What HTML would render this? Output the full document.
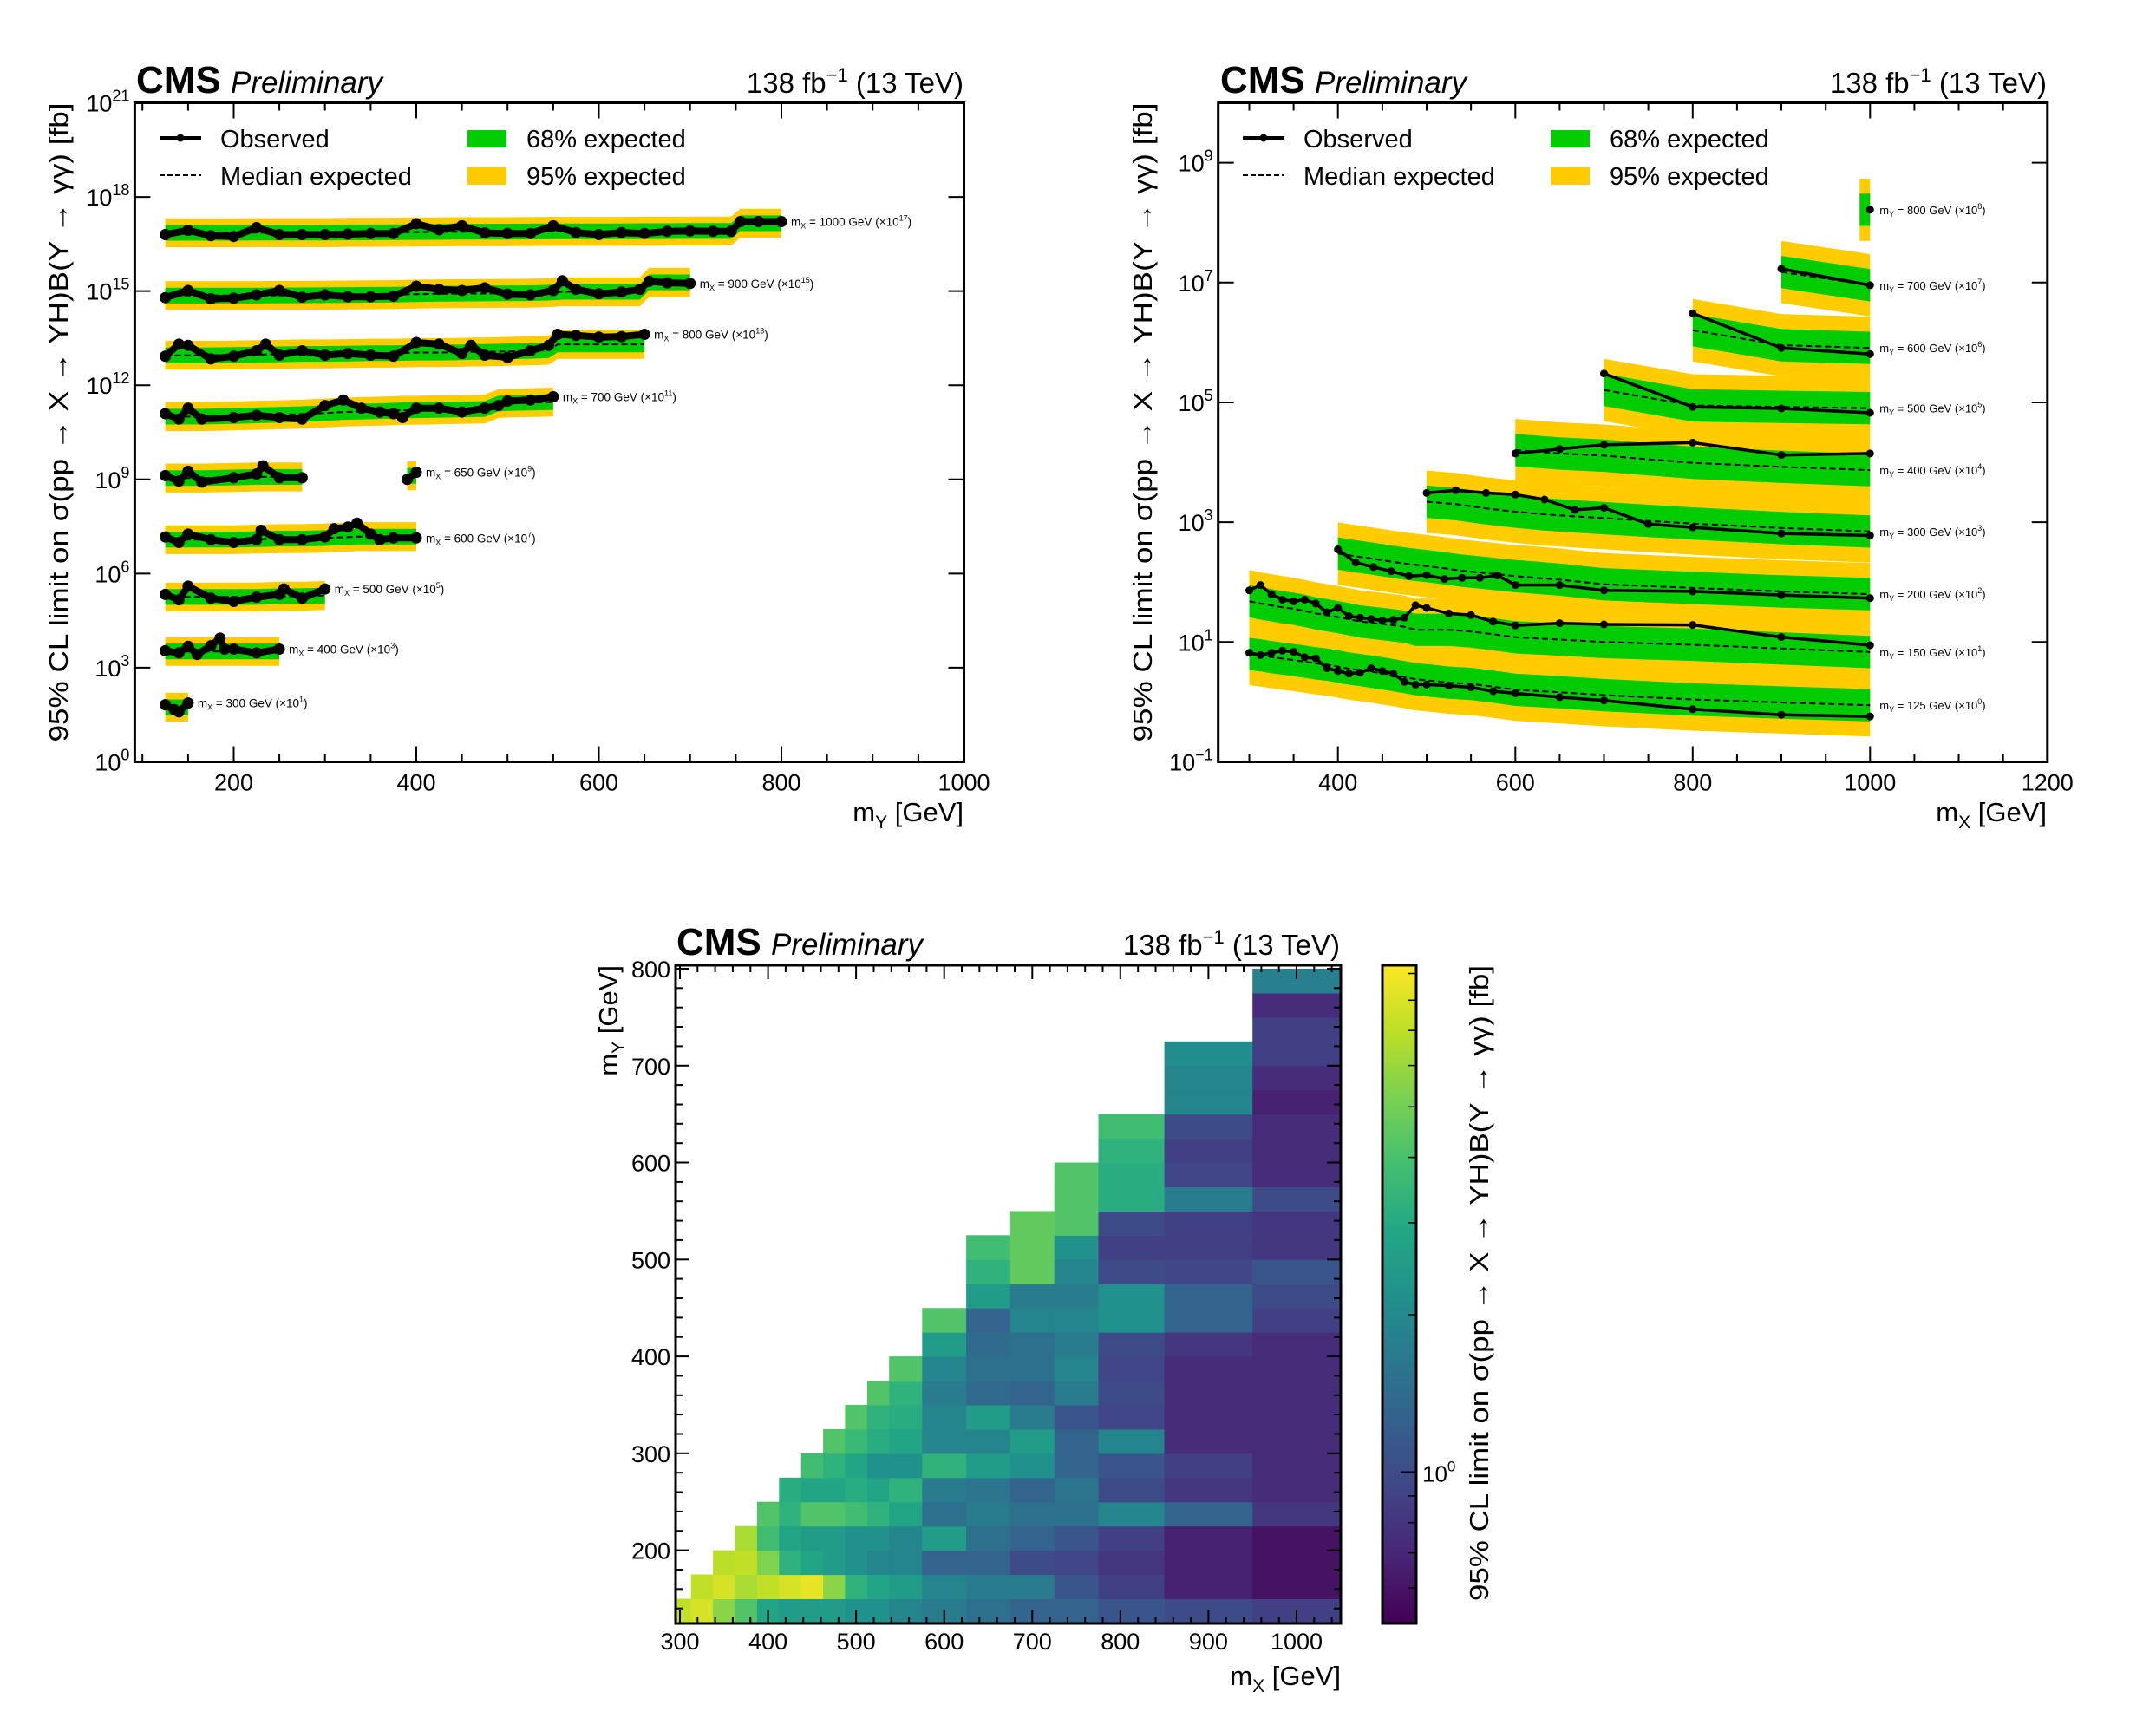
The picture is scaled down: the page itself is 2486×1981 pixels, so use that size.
<!DOCTYPE html>
<html><head><meta charset="utf-8"><title>CMS X to YH limits</title>
<style>html,body{margin:0;padding:0;background:#fff;overflow:hidden}svg{display:block}</style>
</head><body>
<svg id="fig" xmlns="http://www.w3.org/2000/svg" width="2486" height="1981" viewBox="0 0 2486 1981" font-family="'Liberation Sans', 'DejaVu Sans', sans-serif">
<rect x="0" y="0" width="2486" height="1981" fill="#fff"/>
<defs>
<clipPath id="clip3"><rect x="779" y="1113" width="767" height="759"/></clipPath>
<linearGradient id="viridisGrad" x1="0" y1="1" x2="0" y2="0">
<stop offset="0" stop-color="#440154"/><stop offset="0.1" stop-color="#482475"/><stop offset="0.2" stop-color="#414487"/><stop offset="0.3" stop-color="#355f8d"/><stop offset="0.4" stop-color="#2a788e"/><stop offset="0.5" stop-color="#21918c"/><stop offset="0.6" stop-color="#22a884"/><stop offset="0.7" stop-color="#44bf70"/><stop offset="0.8" stop-color="#7ad151"/><stop offset="0.9" stop-color="#bddf26"/><stop offset="1" stop-color="#fde725"/>
</linearGradient>
</defs>

<g>
<text x="157" y="107" font-size="44" font-weight="bold">CMS</text>
<text x="266" y="107" font-size="35" font-style="italic">Preliminary</text>
<text x="1111" y="107" font-size="33" text-anchor="end">138 fb<tspan dy="-13" font-size="22">−1</tspan><tspan dy="13"> (13 TeV)</tspan></text>
</g>
<text transform="translate(78,118.5) rotate(-90)" font-size="31" text-anchor="end" textLength="737" lengthAdjust="spacingAndGlyphs">95% CL limit on σ(pp → X → YH)B(Y → γγ) [fb]</text>
<text x="1111" y="947" font-size="31" text-anchor="end">m<tspan dy="8" font-size="21">Y</tspan><tspan dy="-8"> [GeV]</tspan></text>

<g>
<text x="1407" y="107" font-size="44" font-weight="bold">CMS</text>
<text x="1516" y="107" font-size="35" font-style="italic">Preliminary</text>
<text x="2360" y="107" font-size="33" text-anchor="end">138 fb<tspan dy="-13" font-size="22">−1</tspan><tspan dy="13"> (13 TeV)</tspan></text>
</g>
<text transform="translate(1328,118.5) rotate(-90)" font-size="31" text-anchor="end" textLength="737" lengthAdjust="spacingAndGlyphs">95% CL limit on σ(pp → X → YH)B(Y → γγ) [fb]</text>
<text x="2360" y="947" font-size="31" text-anchor="end">m<tspan dy="8" font-size="21">X</tspan><tspan dy="-8"> [GeV]</tspan></text>

<g>
<text x="780" y="1101" font-size="44" font-weight="bold">CMS</text>
<text x="889" y="1101" font-size="35" font-style="italic">Preliminary</text>
<text x="1545" y="1101" font-size="33" text-anchor="end">138 fb<tspan dy="-13" font-size="22">−1</tspan><tspan dy="13"> (13 TeV)</tspan></text>
</g>
<text transform="translate(712,1113) rotate(-90)" font-size="31" text-anchor="end">m<tspan dy="8" font-size="21">Y</tspan><tspan dy="-8"> [GeV]</tspan></text>
<text x="1546" y="1943" font-size="31" text-anchor="end">m<tspan dy="8" font-size="21">X</tspan><tspan dy="-8"> [GeV]</tspan></text>
<text transform="translate(1716,1113) rotate(-90)" font-size="31" text-anchor="end" textLength="733" lengthAdjust="spacingAndGlyphs">95% CL limit on σ(pp → X → YH)B(Y → γγ) [fb]</text>

<g id="layer"></g>
</svg>

<script>
// ================= DATA: Panel 1 (limits vs mY, per mX) =================
const p1MX = [1000, 900, 800, 700, 650, 650, 600, 500, 400, 300];
const p1ScaleExp = [17, 15, 13, 11, 9, 9, 7, 5, 3, 1];
const p1ShowLabel = [true, true, true, true, false, true, true, true, true, true];
const p1MY = [
  [125,150,175,200,225,250,275,300,325,350,375,400,425,450,475,500,525,550,575,600,625,650,675,700,725,745,755,775,800],
  [125,150,175,200,225,250,275,300,325,350,375,400,425,450,475,500,525,550,560,575,600,625,645,655,675,700],
  [125,140,150,175,200,225,235,250,275,300,325,350,375,400,425,450,460,475,500,525,545,555,575,600,625,650],
  [125,140,150,165,200,225,250,275,300,320,340,360,375,385,400,425,450,475,490,500,525,550],
  [125,140,150,165,200,225,232,250,275],
  [390,400],
  [125,140,150,175,200,225,230,250,275,300,310,325,335,350,360,375,400],
  [125,140,150,175,200,225,250,255,275,300],
  [125,140,150,160,175,185,190,200,225,250],
  [125,135,140,150]
];
const p1Obs = [
  [0.63,0.86,0.58,0.55,1.05,0.63,0.63,0.63,0.65,0.68,0.68,1.4,0.9,1.2,0.71,0.68,0.68,1.2,0.73,0.63,0.73,0.68,0.80,0.82,0.80,0.80,1.64,1.64,1.64],
  [0.62,1.04,0.57,0.59,0.76,1.04,0.64,0.76,0.66,0.66,0.69,1.43,1.13,1.04,1.27,0.80,0.76,1.04,2.14,1.13,0.82,0.93,1.13,2.05,1.83,1.76],
  [0.84,2.03,1.87,0.69,0.84,1.25,2.03,0.91,1.25,0.91,1.03,0.91,0.84,2.29,2.03,1.03,1.87,0.91,0.77,1.25,1.87,4.19,3.87,3.42,3.56,4.19],
  [1.24,0.83,1.85,0.83,0.93,1.10,0.93,0.83,2.26,3.38,1.85,1.40,1.24,0.93,1.85,1.85,1.40,1.85,2.26,3.12,3.38,4.3],
  [1.32,0.88,1.82,0.82,1.13,1.49,2.72,1.13,1.13],
  [1.0,1.68],
  [1.47,0.98,1.80,1.20,0.98,1.20,2.38,1.20,1.20,1.47,2.69,3.03,4.02,1.80,1.20,1.36,1.36],
  [2.17,1.45,3.96,1.64,1.29,1.77,2.17,3.24,1.64,3.24],
  [3.47,2.95,4.78,2.63,5.0,8.7,3.9,3.9,2.95,3.9],
  [6.6,4.6,3.9,7.5]
];
const p1Exp = [
  [0.72,0.72,0.72,0.72,0.73,0.73,0.73,0.73,0.74,0.74,0.75,0.76,0.77,0.78,0.78,0.78,0.79,0.80,0.80,0.80,0.80,0.81,0.81,0.82,0.82,0.82,1.45,1.45,1.45],
  [0.72,0.72,0.72,0.72,0.72,0.73,0.73,0.74,0.75,0.76,0.77,0.8,0.82,0.83,0.84,0.85,0.86,0.9,0.95,0.95,0.95,0.95,0.95,1.9,1.9,1.9],
  [0.9,0.9,0.9,0.9,0.92,0.95,0.95,0.97,1.0,1.0,1.02,1.05,1.05,1.1,1.1,1.12,1.15,1.15,1.2,1.25,1.3,2.0,2.0,2.0,2.0,2.0],
  [1.0,1.0,1.0,1.0,1.05,1.1,1.15,1.2,1.3,1.4,1.45,1.5,1.55,1.6,1.6,1.65,1.7,1.75,2.6,2.7,2.8,2.9],
  [1.1,1.1,1.1,1.1,1.15,1.2,1.2,1.2,1.2],
  [1.3,1.3],
  [1.2,1.2,1.2,1.2,1.2,1.25,1.25,1.3,1.3,1.35,1.4,1.45,1.5,1.5,1.5,1.5,1.5],
  [1.8,1.8,1.8,1.8,1.8,1.8,1.9,1.9,1.9,2.0],
  [3.3,3.3,3.3,3.3,3.3,3.3,3.3,3.3,3.3,3.3],
  [5.5,5.5,5.5,5.5]
];
const p1XTicks = [200, 400, 600, 800, 1000];
const p1YTickExp = [0, 3, 6, 9, 12, 15, 18, 21];

// ================= DATA: Panel 2 (limits vs mX, per mY) =================
const p2MY = [125, 150, 200, 300, 400, 500, 600, 700, 800];
const p2ScaleExp = [0, 1, 2, 3, 4, 5, 6, 7, 8];
const p2MX = [
  [300,312.5,325,337.5,350,362.5,375,387.5,400,412.5,425,437.5,450,462.5,475,487.5,500,525,550,575,600,650,700,800,900,1000],
  [300,312.5,325,337.5,350,362.5,375,387.5,400,412.5,425,437.5,450,462.5,475,487.5,500,525,550,575,600,650,700,800,900,1000],
  [400,420,440,460,480,500,520,540,560,580,600,650,700,800,900,1000],
  [500,533,567,600,633,667,700,750,800,900,1000],
  [600,650,700,800,900,1000],
  [700,800,900,1000],
  [800,900,1000],
  [900,1000],
  [1000]
];
const p2Obs = [
  [6.59,6.05,6.59,7.18,6.87,5.57,5.34,3.66,3.29,2.96,3.09,3.66,3.29,2.96,2.16,1.95,1.95,1.87,1.75,1.51,1.39,1.20,1.06,0.755,0.61,0.574],
  [7.26,8.95,6.27,5.08,4.77,5.08,4.39,3.13,3.71,2.70,2.54,2.43,2.28,2.33,2.54,4.11,3.71,3.0,2.82,2.19,1.89,2.06,1.97,1.93,1.21,0.885],
  [3.52,2.12,1.79,1.52,1.26,1.31,1.13,1.18,1.18,1.29,0.895,0.895,0.726,0.70,0.61,0.54],
  [3.08,3.42,3.08,2.89,2.39,1.60,1.74,0.93,0.82,0.65,0.60],
  [1.40,1.66,1.96,2.13,1.32,1.40],
  [3.03,0.84,0.79,0.67],
  [3.06,0.81,0.64],
  [1.69,0.9],
  [1.64]
];
const p2Exp = [
  [6.3,6.0,5.6,5.3,5.0,4.7,4.4,4.2,3.9,3.6,3.4,3.2,3.0,2.8,2.6,2.4,2.3,2.1,2.0,1.8,1.6,1.45,1.3,1.1,0.98,0.88],
  [4.8,4.4,4.1,3.8,3.6,3.3,3.0,2.8,2.6,2.4,2.2,2.1,2.0,1.9,1.8,1.6,1.6,1.6,1.5,1.35,1.2,1.1,1.0,0.9,0.78,0.68],
  [3.0,2.7,2.45,2.2,2.0,1.85,1.7,1.55,1.45,1.35,1.26,1.1,0.92,0.8,0.7,0.63],
  [2.2,2.0,1.7,1.5,1.35,1.25,1.17,1.05,0.95,0.8,0.7],
  [1.6,1.4,1.29,0.98,0.84,0.74],
  [1.61,0.89,0.84,0.80],
  [1.6,0.9,0.81],
  [1.5,0.9],
  [1.64]
];
const p2XTicks = [400, 600, 800, 1000, 1200];
const p2YTickExp = [-1, 1, 3, 5, 7, 9];

// ================= DATA: Panel 3 (heatmap) =================
const p3XEdges = [295,312.5,337.5,362.5,387.5,412.5,437.5,462.5,487.5,512.5,537.5,575,625,675,725,775,850,950,1050];
const p3YStart = 125;
const p3YStep = 25;
const p3Values = [
  [7.1],
  [7.8,7.1],
  [5.6,7.8,6.9],
  [4.2,6.4,7.1,6.4],
  [2.8,7.1,5.3,3.8,4.2],
  [2.5,7.8,3.3,2.8,3.3,3.1],
  [2.5,8.4,2.8,2.5,4.2,2.8,3.8],
  [2.5,5.6,2.5,2.5,4.2,2.8,3.3,4.2],
  [2.2,3.3,2.2,2.2,3.8,3.1,2.8,3.6,4.2],
  [2.2,2.8,1.9,2.2,3.3,2.8,2.2,3.1,3.3,4.2],
  [1.9,2.5,1.9,1.9,2.8,3.3,2.2,2.8,3.1,3.3,4.2],
  [1.7,1.9,1.3,2.5,1.5,1.7,3.3,1.9,1.9,1.7,1.9,2.5,4.2],
  [1.5,1.7,1.3,1.5,1.7,1.6,2.5,1.9,2.5,1.4,1.5,1.4,1.3,2.5,3.3,3.8],
  [1.3,1.7,1.0,1.3,1.5,1.3,2.2,2.5,1.7,1.3,1.5,1.5,1.9,1.7,4.6,4.6,4.6],
  [1.3,1.1,0.94,1.1,1.5,1.6,1.3,1.3,1.1,1.7,1.9,1.7,1.9,1.7,1.9,2.2,4.2,4.2,4.2],
  [1.1,0.88,0.81,0.88,1.9,1.0,1.1,1.9,0.94,1.0,0.94,1.0,2.2,2.2,1.0,0.88,1.0,3.1,3.1,3.3,3.8],
  [1.0,0.67,0.67,0.67,1.3,0.81,0.88,0.74,0.74,0.74,0.74,0.81,1.3,1.3,0.94,0.88,0.88,1.7,0.94,0.88,1.0,1.9,1.9,2.1],
  [0.88,0.59,0.59,0.59,0.81,0.74,0.74,0.74,0.74,0.74,0.74,0.74,0.88,1.0,1.1,0.81,0.81,1.0,0.74,0.74,0.74,0.67,0.74,0.88,0.88,0.74,1.8]
];
const p3XTicks = [300,400,500,600,700,800,900,1000];
const p3YTicks = [200,300,400,500,600,700,800];
const cbMinorTicks = [0.6,0.7,0.8,0.9,2,3,4,5,6,7,8,9];

// ================= RENDERING =================
const NS = 'http://www.w3.org/2000/svg';
const layer = document.getElementById('layer');
function mk(parent, tag, attrs, name) {
  const e = document.createElementNS(NS, tag);
  for (const k in attrs) e.setAttribute(k, attrs[k]);
  
  
  parent.appendChild(e);
  return e;
}
const L10 = Math.log10;

const P1 = {x0:155.4, x1:1111.5, y0:118.5, y1:878.5, xmin:91.6, xmax:1000, lmin:0, lmax:21};
const sx1 = v => P1.x0 + (v - P1.xmin) * (P1.x1 - P1.x0) / (P1.xmax - P1.xmin);
const sy1 = v => P1.y1 - (L10(v) - P1.lmin) * (P1.y1 - P1.y0) / (P1.lmax - P1.lmin);
const P2 = {x0:1404.7, x1:2360.8, y0:118.5, y1:878.5, xmin:265, xmax:1200, lmin:-1, lmax:10};
const sx2 = v => P2.x0 + (v - P2.xmin) * (P2.x1 - P2.x0) / (P2.xmax - P2.xmin);
const sy2 = v => P2.y1 - (L10(v) - P2.lmin) * (P2.y1 - P2.y0) / (P2.lmax - P2.lmin);
const P3 = {x0:779, x1:1546, y0:1113, y1:1872};
const sx3 = v => 784 + (v - 300) * 1.0157;
const sy3 = v => 1787.6 - (v - 200) * 1.1177;
const CB = {x0:1594, x1:1633, y0:1113, y1:1872, lmin:-0.290, lmax:0.970};
const sycb = v => CB.y1 - (L10(v) - CB.lmin) / (CB.lmax - CB.lmin) * (CB.y1 - CB.y0);

function poly(pts){ return pts.map(p => p[0].toFixed(1)+','+p[1].toFixed(1)).join(' '); }

function drawLimitSeries(g, xs, obs, exp, scale, sx, sy, gW, yW, lw, r, idx) {
  const up = (f) => xs.map((x,i) => [sx(x), sy(exp[i]*scale*Math.pow(10,f))]);
  const dn = (f) => xs.map((x,i) => [sx(x), sy(exp[i]*scale*Math.pow(10,-f))]).reverse();
  let yUp = up(yW), yDn = dn(yW), gUp = up(gW), gDn = dn(gW);
  if (xs.length === 1) {
    const widen = a => [[a[0][0]-12, a[0][1]], [a[0][0], a[0][1]]];
    yUp = widen(yUp); gUp = widen(gUp);
    yDn = widen(yDn).reverse(); gDn = widen(gDn).reverse();
  }
  mk(g, 'polygon', {points: poly(yUp.concat(yDn)), fill:'#ffcc00'}, 'band-95-' + idx);
  mk(g, 'polygon', {points: poly(gUp.concat(gDn)), fill:'#00cc00'}, 'band-68-' + idx);
  const ep = xs.map((x,i) => [sx(x), sy(exp[i]*scale)]);
  if (xs.length > 1) mk(g, 'polyline', {points: poly(ep), fill:'none', stroke:'#000', 'stroke-width':2, 'stroke-dasharray':'7 4'}, 'expected-line-' + idx);
  const op = xs.map((x,i) => [sx(x), sy(obs[i]*scale)]);
  if (xs.length > 1) mk(g, 'polyline', {points: poly(op), fill:'none', stroke:'#000', 'stroke-width':lw, 'stroke-linejoin':'round'}, 'observed-line-' + idx);
  op.forEach((p,i) => mk(g, 'circle', {cx:p[0].toFixed(1), cy:p[1].toFixed(1), r:r, fill:'#000'}, 'observed-point-' + idx));
  return op;
}

const g1 = mk(layer, 'g', {}, 'panel1-limits-vs-mY');
p1MX.forEach((mx, i) => {
  const s = Math.pow(10, p1ScaleExp[i]);
  const op = drawLimitSeries(g1, p1MY[i], p1Obs[i], p1Exp[i], s, sx1, sy1, 0.25, 0.46, 8, 6.5, 'mx' + mx);
  if (p1ShowLabel[i]) {
    const last = op[op.length-1];
    const t = mk(g1, 'text', {x:(last[0]+11).toFixed(1), y:(last[1]+5).toFixed(1), 'font-size':13.5}, 'series-label-mx' + mx);
    t.innerHTML = 'm<tspan dy="3" font-size="9">X</tspan><tspan dy="-3"> = ' + mx + ' GeV (×10</tspan><tspan dy="-6" font-size="9">' + p1ScaleExp[i] + '</tspan><tspan dy="6">)</tspan>';
  }
});

const g2 = mk(layer, 'g', {}, 'panel2-limits-vs-mX');
p2MY.forEach((my, i) => {
  const s = Math.pow(10, p2ScaleExp[i]);
  drawLimitSeries(g2, p2MX[i], p2Obs[i], p2Exp[i], s, sx2, sy2, 0.27, 0.52, 3.5, 4.5, 'my' + my);
  const ex = p2Exp[i];
  const t = mk(g2, 'text', {x:(sx2(1000)+11).toFixed(1), y:(sy2(ex[ex.length-1]*s)+5).toFixed(1), 'font-size':13}, 'series-label-my' + my);
  t.innerHTML = 'm<tspan dy="3" font-size="9">Y</tspan><tspan dy="-3"> = ' + my + ' GeV (×10</tspan><tspan dy="-6" font-size="9">' + p2ScaleExp[i] + '</tspan><tspan dy="6">)</tspan>';
});

function frameLog(P, sx, name, xTicks, xMinorStep, yExps) {
  const g = mk(layer, 'g', {}, name + '-axes');
  for (let v = Math.ceil(P.xmin / xMinorStep) * xMinorStep; v <= P.xmax; v += xMinorStep) {
    const X = sx(v).toFixed(1);
    const maj = xTicks.includes(v);
    const len = maj ? 18 : 9;
    mk(g, 'line', {x1:X, y1:P.y1, x2:X, y2:P.y1-len, stroke:'#000', 'stroke-width':2}, maj ? 'x-major-tick' : 'x-minor-tick');
    mk(g, 'line', {x1:X, y1:P.y0, x2:X, y2:P.y0+len, stroke:'#000', 'stroke-width':2}, maj ? 'x-major-tick-top' : 'x-minor-tick-top');
  }
  xTicks.forEach(v => {
    const t = mk(g, 'text', {x:sx(v).toFixed(1), y:P.y1+33, 'font-size':27, 'text-anchor':'middle'}, 'x-tick-label');
    t.textContent = String(v);
  });
  const yOf = e => P.y1 - (e - P.lmin) * (P.y1 - P.y0) / (P.lmax - P.lmin);
  yExps.forEach(e => {
    const Y = yOf(e).toFixed(1);
    mk(g, 'line', {x1:P.x0, y1:Y, x2:P.x0+18, y2:Y, stroke:'#000', 'stroke-width':2}, 'y-tick');
    mk(g, 'line', {x1:P.x1, y1:Y, x2:P.x1-18, y2:Y, stroke:'#000', 'stroke-width':2}, 'y-tick-right');
    const t = mk(g, 'text', {x:P.x0-6, y:(yOf(e)+10).toFixed(1), 'font-size':27, 'text-anchor':'end'}, 'y-tick-label');
    const sup = (e < 0 ? '−' + (-e) : String(e));
    t.innerHTML = '10<tspan dy="-12" font-size="18">' + sup + '</tspan>';
  });
  mk(g, 'rect', {x:P.x0, y:P.y0, width:P.x1-P.x0, height:P.y1-P.y0, fill:'none', stroke:'#000', 'stroke-width':3}, name + '-frame');
}
frameLog(P1, sx1, 'panel1', p1XTicks, 50, p1YTickExp);
frameLog(P2, sx2, 'panel2', p2XTicks, 50, p2YTickExp);

function legend(x0, name) {
  const g = mk(layer, 'g', {}, name);
  mk(g, 'line', {x1:x0, y1:159, x2:x0+48, y2:159, stroke:'#000', 'stroke-width':4}, 'legend-observed-line');
  mk(g, 'circle', {cx:x0+24, cy:159, r:4.5, fill:'#000'}, 'legend-observed-marker');
  let t = mk(g, 'text', {x:x0+70, y:170, 'font-size':29}, 'legend-observed-label'); t.textContent = 'Observed';
  mk(g, 'line', {x1:x0, y1:202, x2:x0+48, y2:202, stroke:'#000', 'stroke-width':2, 'stroke-dasharray':'6 3'}, 'legend-median-line');
  t = mk(g, 'text', {x:x0+70, y:213, 'font-size':29}, 'legend-median-label'); t.textContent = 'Median expected';
  mk(g, 'rect', {x:x0+355, y:150, width:45, height:20, fill:'#00cc00'}, 'legend-68-swatch');
  t = mk(g, 'text', {x:x0+423, y:170, 'font-size':29}, 'legend-68-label'); t.textContent = '68% expected';
  mk(g, 'rect', {x:x0+355, y:192, width:45, height:21, fill:'#ffcc00'}, 'legend-95-swatch');
  t = mk(g, 'text', {x:x0+423, y:213, 'font-size':29}, 'legend-95-label'); t.textContent = '95% expected';
}
legend(184, 'panel1-legend');
legend(1433, 'panel2-legend');

const vir = ['#440154','#482475','#414487','#355f8d','#2a788e','#21918c','#22a884','#44bf70','#7ad151','#bddf26','#fde725'];
function hex2rgb(h){ return [parseInt(h.substr(1,2),16), parseInt(h.substr(3,2),16), parseInt(h.substr(5,2),16)]; }
function viridis(v) {
  let t = (L10(v) - CB.lmin) / (CB.lmax - CB.lmin);
  t = Math.max(0, Math.min(1, t));
  const f = t * 10, i = Math.min(9, Math.floor(f)), u = f - i;
  const a = hex2rgb(vir[i]), b = hex2rgb(vir[i+1]);
  return 'rgb(' + a.map((c,k) => Math.round(c + (b[k]-c)*u)).join(',') + ')';
}
const g3 = mk(layer, 'g', {'clip-path':'url(#clip3)'}, 'heatmap');
p3Values.forEach((col, ci) => {
  const xa = sx3(p3XEdges[ci]), xb = sx3(p3XEdges[ci+1]);
  col.forEach((v, ri) => {
    const ylo = p3YStart + ri * p3YStep, yhi = ylo + p3YStep;
    const ya = sy3(yhi), yb = sy3(ylo);
    mk(g3, 'rect', {x:xa.toFixed(1), y:ya.toFixed(1), width:(xb-xa+0.6).toFixed(1), height:(yb-ya+0.6).toFixed(1), fill:viridis(v)}, 'heatmap-cell');
  });
});
const g3a = mk(layer, 'g', {}, 'panel3-axes');
for (let v = 300; v <= 1040; v += 20) {
  const X = sx3(v).toFixed(1), maj = p3XTicks.includes(v), len = maj ? 16 : 8;
  mk(g3a, 'line', {x1:X, y1:P3.y1, x2:X, y2:P3.y1-len, stroke:'#000', 'stroke-width':2}, 'x-tick');
  mk(g3a, 'line', {x1:X, y1:P3.y0, x2:X, y2:P3.y0+len, stroke:'#000', 'stroke-width':2}, 'x-tick-top');
}
p3XTicks.forEach(v => { const t = mk(g3a, 'text', {x:sx3(v).toFixed(1), y:1902, 'font-size':27, 'text-anchor':'middle'}, 'x-tick-label'); t.textContent = String(v); });
for (let v = 140; v <= 800; v += 20) {
  const Y = sy3(v).toFixed(1), maj = p3YTicks.includes(v), len = maj ? 16 : 8;
  mk(g3a, 'line', {x1:P3.x0, y1:Y, x2:P3.x0+len, y2:Y, stroke:'#000', 'stroke-width':2}, 'y-tick');
  mk(g3a, 'line', {x1:P3.x1, y1:Y, x2:P3.x1-len, y2:Y, stroke:'#000', 'stroke-width':2}, 'y-tick-right');
}
p3YTicks.forEach(v => { const t = mk(g3a, 'text', {x:773, y:(sy3(v)+10).toFixed(1), 'font-size':27, 'text-anchor':'end'}, 'y-tick-label'); t.textContent = String(v); });
mk(g3a, 'rect', {x:P3.x0, y:P3.y0, width:P3.x1-P3.x0, height:P3.y1-P3.y0, fill:'none', stroke:'#000', 'stroke-width':3}, 'panel3-frame');

const gc = mk(layer, 'g', {}, 'colorbar');
mk(gc, 'rect', {x:CB.x0, y:CB.y0, width:CB.x1-CB.x0, height:CB.y1-CB.y0, fill:'url(#viridisGrad)', stroke:'#000', 'stroke-width':3}, 'colorbar-gradient');
cbMinorTicks.forEach(v => {
  const Y = sycb(v).toFixed(1);
  mk(gc, 'line', {x1:CB.x1, y1:Y, x2:CB.x1-9, y2:Y, stroke:'#000', 'stroke-width':1.5}, 'colorbar-minor-tick');
});
mk(gc, 'line', {x1:CB.x1, y1:sycb(1).toFixed(1), x2:CB.x1-18, y2:sycb(1).toFixed(1), stroke:'#000', 'stroke-width':1.5}, 'colorbar-major-tick');
const cbl = mk(gc, 'text', {x:1640, y:(sycb(1)+11).toFixed(1), 'font-size':26}, 'colorbar-tick-label');
cbl.innerHTML = '10<tspan dy="-12" font-size="17">0</tspan>';
</script>
</body></html>
